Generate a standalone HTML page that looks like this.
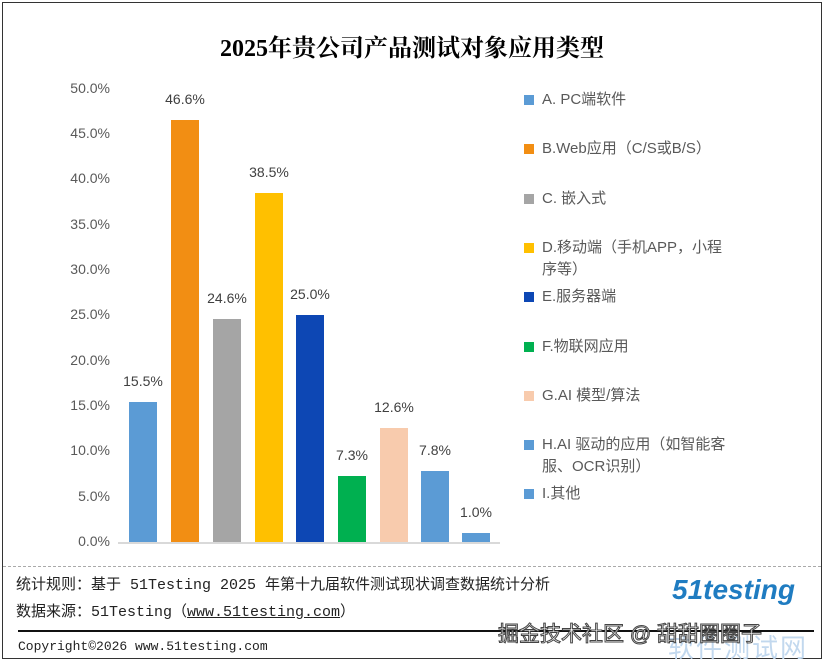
<!DOCTYPE html><html><head><meta charset="utf-8"><style>
body{margin:0;width:824px;height:665px;background:#fff;position:relative;font-family:"Liberation Sans","Noto Sans CJK SC",sans-serif;overflow:hidden}
div{position:absolute;white-space:nowrap}
.yl{width:60px;left:50px;text-align:right;font-size:14px;color:#595959}
.b{width:28px}
.v{width:60px;text-align:center;font-size:14px;color:#404040}
.sq{width:10px;height:10px;left:524px}
.lt{left:542px;font-size:15px;color:#595959;line-height:22px;width:240px}
.ft{font-family:"Liberation Mono","Noto Sans CJK SC",monospace;font-size:15px;color:#222}
</style></head><body>
<div style="left:2px;top:2px;width:818px;height:655px;border:1px solid #333"></div>
<div style="left:0;width:824px;top:28px;text-align:center;font-size:24px;font-weight:bold;color:#000;font-family:'Liberation Serif','Noto Serif CJK SC',serif">2025年贵公司产品测试对象应用类型</div>
<div class="yl" style="top:80px">50.0%</div>
<div class="yl" style="top:125px">45.0%</div>
<div class="yl" style="top:170px">40.0%</div>
<div class="yl" style="top:216px">35.0%</div>
<div class="yl" style="top:261px">30.0%</div>
<div class="yl" style="top:306px">25.0%</div>
<div class="yl" style="top:352px">20.0%</div>
<div class="yl" style="top:397px">15.0%</div>
<div class="yl" style="top:442px">10.0%</div>
<div class="yl" style="top:488px">5.0%</div>
<div class="yl" style="top:533px">0.0%</div>
<div style="left:118px;top:542px;width:382px;height:2px;background:#d9d9d9"></div>
<div class="b" style="left:129px;top:402px;height:140px;background:#5b9bd5"></div>
<div class="b" style="left:171px;top:120px;height:422px;background:#f28e13"></div>
<div class="b" style="left:213px;top:319px;height:223px;background:#a5a5a5"></div>
<div class="b" style="left:255px;top:193px;height:349px;background:#ffc000"></div>
<div class="b" style="left:296px;top:315px;height:227px;background:#0d47b4"></div>
<div class="b" style="left:338px;top:476px;height:66px;background:#00b050"></div>
<div class="b" style="left:380px;top:428px;height:114px;background:#f8cbad"></div>
<div class="b" style="left:421px;top:471px;height:71px;background:#5b9bd5"></div>
<div class="b" style="left:462px;top:533px;height:9px;background:#5b9bd5"></div>
<div class="v" style="left:113px;top:373px">15.5%</div>
<div class="v" style="left:155px;top:91px">46.6%</div>
<div class="v" style="left:197px;top:290px">24.6%</div>
<div class="v" style="left:239px;top:164px">38.5%</div>
<div class="v" style="left:280px;top:286px">25.0%</div>
<div class="v" style="left:322px;top:447px">7.3%</div>
<div class="v" style="left:364px;top:399px">12.6%</div>
<div class="v" style="left:405px;top:442px">7.8%</div>
<div class="v" style="left:446px;top:504px">1.0%</div>
<div class="sq" style="top:95px;background:#5b9bd5"></div><div class="lt" style="top:89px">A. PC端软件</div>
<div class="sq" style="top:144px;background:#f28e13"></div><div class="lt" style="top:138px">B.Web应用（C/S或B/S）</div>
<div class="sq" style="top:194px;background:#a5a5a5"></div><div class="lt" style="top:188px">C. 嵌入式</div>
<div class="sq" style="top:243px;background:#ffc000"></div><div class="lt" style="top:237px">D.移动端（手机APP，小程<br>序等）</div>
<div class="sq" style="top:292px;background:#0d47b4"></div><div class="lt" style="top:286px">E.服务器端</div>
<div class="sq" style="top:342px;background:#00b050"></div><div class="lt" style="top:336px">F.物联网应用</div>
<div class="sq" style="top:391px;background:#f8cbad"></div><div class="lt" style="top:385px">G.AI 模型/算法</div>
<div class="sq" style="top:440px;background:#5b9bd5"></div><div class="lt" style="top:434px">H.AI 驱动的应用（如智能客<br>服、OCR识别）</div>
<div class="sq" style="top:489px;background:#5b9bd5"></div><div class="lt" style="top:483px">I.其他</div>
<div style="left:3px;top:566px;width:818px;border-top:1px dashed #aaa"></div>
<div class="ft" style="left:16px;top:573px">统计规则：基于 51Testing 2025 年第十九届软件测试现状调查数据统计分析</div>
<div class="ft" style="left:16px;top:600px">数据来源：51Testing（<u>www.51testing.com</u>）</div>
<div style="left:18px;top:630px;width:796px;height:2px;background:#111"></div>
<div class="ft" style="left:18px;top:639px;font-size:13px">Copyright©2026 www.51testing.com</div>
<div style="left:672px;top:574px;font-size:28px;font-weight:bold;font-style:italic;color:#1f7cc1">51testing</div>
<div style="left:668px;top:628px;font-size:26px;color:#c2d8ee;letter-spacing:2px">软件测试网</div>
<div style="left:498px;top:618px;font-size:21px;color:#fff;-webkit-text-stroke:1px #444">掘金技术社区 @ 甜甜圈圈子</div>
</body></html>
